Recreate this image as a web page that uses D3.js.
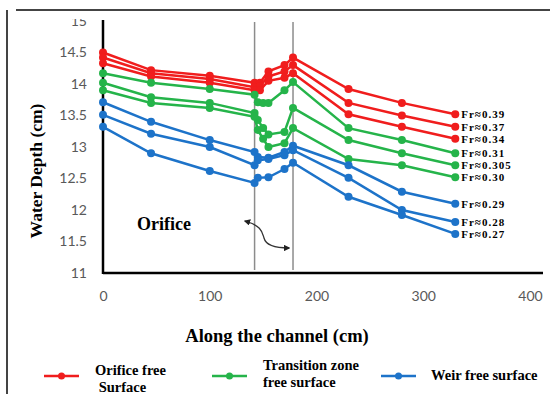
<!DOCTYPE html>
<html>
<head>
<meta charset="utf-8">
<script src="https://cdn.jsdelivr.net/npm/d3@7"></script>
<style>
  body { margin: 0; background: #fff; }
  .tick text { font-family: Lato, "Open Sans", sans-serif; font-size: 14px; fill: #595959; }
  .serif { font-family: "Liberation Serif", "Times New Roman", serif; font-weight: bold; }
</style>
</head>
<body>
<div id="chart"></div>
<script>
// positions along the channel (cm) for each series
var xOrifice = [0, 45, 100, 142, 147, 155, 170, 178, 230, 280, 330];
var xGreen   = [0, 45, 100, 142, 145, 150, 155, 170, 178, 230, 280, 330];
var xBlue    = [0, 45, 100, 142, 145, 155, 170, 178, 230, 280, 330];

// water depth (cm)
var fr039  = [14.50, 14.22, 14.13, 14.02, 14.02, 14.20, 14.30, 14.42, 13.92, 13.70, 13.52];
var fr037  = [14.42, 14.17, 14.08, 13.95, 13.97, 14.12, 14.20, 14.30, 13.70, 13.50, 13.32];
var fr034  = [14.33, 14.12, 14.02, 13.90, 13.90, 14.05, 14.10, 14.17, 13.52, 13.32, 13.13];
var fr031  = [14.17, 14.02, 13.92, 13.83, 13.71, 13.70, 13.70, 13.90, 14.03, 13.30, 13.11, 12.90];
var fr0305 = [14.02, 13.79, 13.70, 13.54, 13.43, 13.30, 13.20, 13.24, 13.62, 13.11, 12.90, 12.71];
var fr030  = [13.90, 13.70, 13.62, 13.48, 13.27, 13.13, 13.00, 13.06, 13.30, 12.81, 12.71, 12.52];
var fr029  = [13.71, 13.40, 13.11, 12.92, 12.84, 12.83, 12.92, 13.02, 12.71, 12.29, 12.10];
var fr028  = [13.51, 13.21, 13.00, 12.71, 12.79, 12.81, 12.87, 12.95, 12.51, 12.00, 11.81];
var fr027  = [13.32, 12.90, 12.62, 12.43, 12.51, 12.52, 12.65, 12.75, 12.21, 11.92, 11.62];

var xTicks = [0, 100, 200, 300, 400];
var yTicks = [11, 11.5, 12, 12.5, 13, 13.5, 14, 14.5, 15];
var orificeEdges = [142, 178];

var red = "#f01d1d", green = "#25b44a", blue = "#1d73c9";

var series = [
  {label: "Fr\u22480.39",  xs: xOrifice, ys: fr039,  color: red},
  {label: "Fr\u22480.37",  xs: xOrifice, ys: fr037,  color: red},
  {label: "Fr\u22480.34",  xs: xOrifice, ys: fr034,  color: red},
  {label: "Fr\u22480.31",  xs: xGreen,   ys: fr031,  color: green},
  {label: "Fr\u22480.305", xs: xGreen,   ys: fr0305, color: green},
  {label: "Fr\u22480.30",  xs: xGreen,   ys: fr030,  color: green},
  {label: "Fr\u22480.29",  xs: xBlue,    ys: fr029,  color: blue},
  {label: "Fr\u22480.28",  xs: xBlue,    ys: fr028,  color: blue},
  {label: "Fr\u22480.27",  xs: xBlue,    ys: fr027,  color: blue}
];

var legendItems = [
  {lines: ["Orifice free", " Surface"], color: red},
  {lines: ["Transition zone", "free surface"], color: green},
  {lines: ["Weir free surface"], color: blue}
];

var svgWidth = 550, svgHeight = 394;

var svg = d3.select("#chart").append("svg")
  .attr("width", svgWidth)
  .attr("height", svgHeight);

// scales
var x = d3.scaleLinear().domain([0, 400]).range([103, 530]);
var y = d3.scaleLinear().domain([11, 15]).range([273, 21]);

// frame lines
svg.append("line").attr("x1", 7).attr("x2", 7).attr("y1", 10).attr("y2", 394)
  .attr("stroke", "#444").attr("stroke-width", 2);
svg.append("line").attr("x1", 16).attr("x2", 550).attr("y1", 10).attr("y2", 10)
  .attr("stroke", "#444").attr("stroke-width", 2);

// clip so the top "15" label is cut like the original
svg.append("clipPath").attr("id", "clip")
  .append("rect").attr("x", -100).attr("y", 19).attr("width", 200).attr("height", svgHeight);

// axes (labels only)
var yAxis = svg.append("g")
  .attr("clip-path", "url(#clip)")
  .attr("transform", "translate(90,0)")
  .call(d3.axisLeft(y).tickValues(yTicks).tickSize(0).tickFormat(d3.format("")));
yAxis.select(".domain").remove();

var xAxis = svg.append("g")
  .attr("transform", "translate(0,288)")
  .call(d3.axisBottom(x).tickValues(xTicks).tickSize(0));
xAxis.select(".domain").remove();

// axis lines
svg.append("line").attr("x1", x(0)).attr("x2", x(0)).attr("y1", 20).attr("y2", 274)
  .attr("stroke", "#000").attr("stroke-width", 2.5);
svg.append("line").attr("x1", x(0)).attr("x2", 543).attr("y1", 273).attr("y2", 273)
  .attr("stroke", "#000").attr("stroke-width", 2.5);

// orifice zone boundaries
svg.selectAll(".edge").data(orificeEdges).enter().append("line")
  .attr("class", "edge")
  .attr("x1", d => x(d)).attr("x2", d => x(d))
  .attr("y1", 22).attr("y2", 270)
  .attr("stroke", "#8c8c8c").attr("stroke-width", 1.5);

// series
var line = d3.line().x(d => x(d[0])).y(d => y(d[1]));

series.forEach(function(s) {
  var pts = s.xs.map((v, i) => [v, s.ys[i]]);
  svg.append("path").datum(pts)
    .attr("d", line)
    .attr("fill", "none")
    .attr("stroke", s.color)
    .attr("stroke-width", 2.5);
  svg.append("g").selectAll("circle").data(pts).enter().append("circle")
    .attr("cx", d => x(d[0]))
    .attr("cy", d => y(d[1]))
    .attr("r", 4)
    .attr("fill", s.color);
  var last = pts[pts.length - 1];
  svg.append("text").attr("class", "serif")
    .attr("x", x(last[0]) + 6)
    .attr("y", y(last[1]) + 4)
    .attr("font-size", 11)
    .attr("letter-spacing", 1)
    .text(s.label);
});

// annotation
svg.append("text").attr("class", "serif")
  .attr("x", 137).attr("y", 230)
  .attr("font-size", 18)
  .text("Orifice");

svg.append("defs").append("marker")
  .attr("id", "arrow").attr("viewBox", "0 0 10 10")
  .attr("refX", 8).attr("refY", 5)
  .attr("markerWidth", 5).attr("markerHeight", 5)
  .attr("orient", "auto-start-reverse")
  .append("path").attr("d", "M0,0L10,5L0,10z").attr("fill", "#222");

svg.append("path")
  .attr("d", "M245,221 C262,226 262,232 264,238 C266,246 276,248 289,248")
  .attr("fill", "none").attr("stroke", "#333").attr("stroke-width", 1.3)
  .attr("marker-start", "url(#arrow)").attr("marker-end", "url(#arrow)");

// axis titles
svg.append("text").attr("class", "serif")
  .attr("transform", "translate(42,171) rotate(-90)")
  .attr("text-anchor", "middle")
  .attr("font-size", 17.5)
  .text("Water Depth (cm)");

svg.append("text").attr("class", "serif")
  .attr("x", 277).attr("y", 342)
  .attr("text-anchor", "middle")
  .attr("font-size", 18.5)
  .text("Along the channel (cm)");

// legend
var legendX = [44, 212, 381];
var legendTextX = [51, 51, 50];
var legend = svg.selectAll(".legend").data(legendItems).enter().append("g")
  .attr("class", "legend")
  .attr("transform", (d, i) => `translate(${legendX[i]}, 376)`);

legend.append("line").attr("x1", 0).attr("x2", 35).attr("y1", 0).attr("y2", 0)
  .attr("stroke", d => d.color).attr("stroke-width", 2.5);
legend.append("circle").attr("cx", 17.5).attr("cy", 0).attr("r", 3.5)
  .attr("fill", d => d.color);
legend.append("text").attr("class", "serif")
  .attr("font-size", 14.5)
  .each(function(d, k) {
    var t = d3.select(this);
    var n = d.lines.length;
    var top = [-1, -6, 0][k];
    d.lines.forEach(function(l, i) {
      t.append("tspan")
        .attr("x", legendTextX[k])
        .attr("y", n === 1 ? 4 : top + i * 17)
        .attr("xml:space", "preserve")
        .text(l);
    });
  });
</script>
</body>
</html>
